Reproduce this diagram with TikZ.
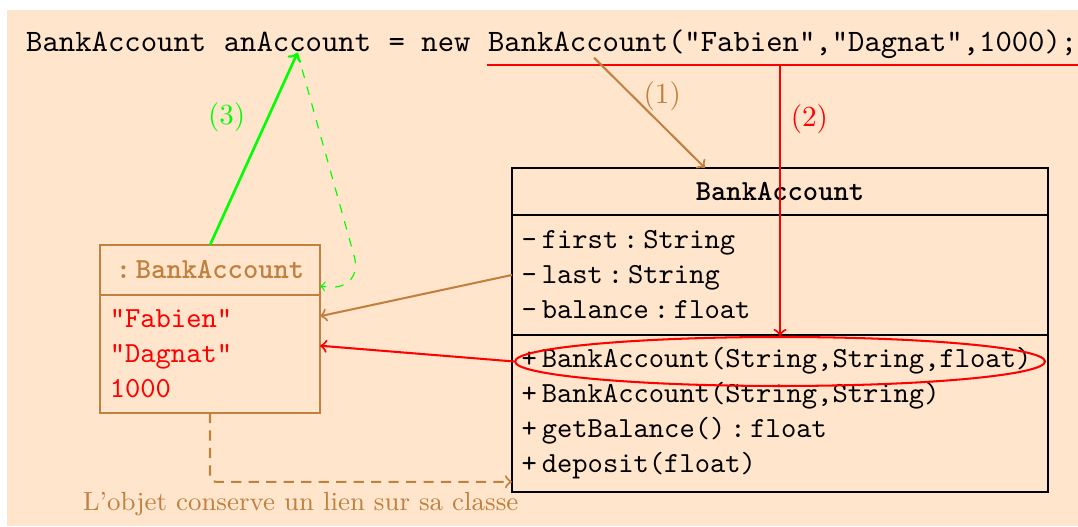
\documentclass[tikz,border=0pt]{standalone}
\usepackage{amsmath}
\usetikzlibrary{positioning,shapes.geometric,calc}

\begin{document}
\begin{tikzpicture}[
    code/.style={inner sep=0pt,font=\ttfamily\fontsize{10.7}{13}\selectfont},
    classpart/.style={draw,line width=0.5pt,outer sep=0pt,minimum width=6.465cm,font=\ttfamily},
    members/.style={classpart,text width=177.3pt,align=left},
    objpart/.style={draw=brown,line width=0.7pt,outer sep=0pt,minimum width=2.653cm,font=\ttfamily},
    link/.style={->,line width=0.7pt},
  ]
  \useasboundingbox (0,0) rectangle (13.002,6.356);
  \fill[white] (0,0) rectangle (13.002,6.356);
  \fill[orange!20] (0.084,0.012) rectangle (13.002,6.236);

  % la ligne de code
  \node[code,anchor=base west] (type) at (0.309,5.729) {BankAccount};
  \node[code,base right=5.62pt of type] (var) {anAccount};
  \node[code,base right=5.62pt of var] (kw) {= new};
  \node[code,base right=5.62pt of kw] (ctor) {BankAccount("Fabien","Dagnat",1000);};
  \coordinate (ul) at ([yshift=-4.5pt]ctor.base);
  \draw[red,line width=0.7pt] (ctor.base west |- ul) -- (ctor.base east |- ul);

  % la classe
  \node[classpart,minimum height=0.567cm,font=\ttfamily\bfseries] (clshead) at (9.408,4.0465) {BankAccount};
  \node[members,minimum height=1.447cm,below=0pt of clshead] (clsattr)
    {-\,first\,:\,String\\ -\,last\,:\,String\\ -\,balance\,:\,float};
  \node[members,minimum height=1.894cm,below=0pt of clsattr] (clsops)
    {+\,BankAccount(String,String,float)\\ +\,BankAccount(String,String)\\ +\,getBalance()\,:\,float\\ +\,deposit(float)};
  \node[draw=red,line width=0.7pt,ellipse,inner sep=0pt,minimum width=6.392cm,minimum height=0.591cm] (ctorop)
    at ([yshift=-0.32cm]clsops.north) {};

  % l'objet
  \node[objpart,minimum height=0.603cm,font=\ttfamily\bfseries,text=brown] (objhead) at (2.533,3.0995) {:\,BankAccount};
  \node[objpart,minimum height=1.423cm,below=0pt of objhead,text width=68.8pt,align=left,text=red] (objbody)
    {"Fabien"\\ "Dagnat"\\ 1000};

  \coordinate (firstref) at ($(objbody.north east)!0.18!(objbody.south east)$);
  \coordinate (dagref) at ($(objbody.north east)!0.43!(objbody.south east)$);
  \coordinate (backref) at ($(objhead.north east)!0.82!(objhead.south east)$);
  \coordinate (linkend) at ([yshift=3.5pt]clsops.south west);

  % (1) (2) (3)
  \draw[link,brown] ([shift={(36.6pt,-2pt)}]ctor.base west) -- node[pos=0.35,right] (lbl1) {$(1)$}
    ($(clshead.north west)!0.36!(clshead.north east)$);
  \draw[link,red] (ctorop.north |- ul) -- node[pos=0.2,right] (lbl2) {$(2)$} (ctorop.north);
  \draw[->,green,line width=0.9pt] (objhead.north) -- node[pos=0.53,above left] (lbl3) {$(3)$} (var.south);
  \draw[->,green,thin,dashed,rounded corners=12pt] (var.south) -- ([shift={(15pt,-1.5pt)}]backref) -- (backref);

  \draw[link,brown] (clsattr.west) -- (firstref);
  \draw[link,red] (ctorop.west) -- (dagref);
  \draw[link,brown,dash pattern=on 3.5pt off 2.5pt,rounded corners=2pt] (objbody.south) |-
    node[pos=0.65,below,font=\small] (note) {L'objet conserve un lien sur sa classe} (linkend);
\end{tikzpicture}
\end{document}
